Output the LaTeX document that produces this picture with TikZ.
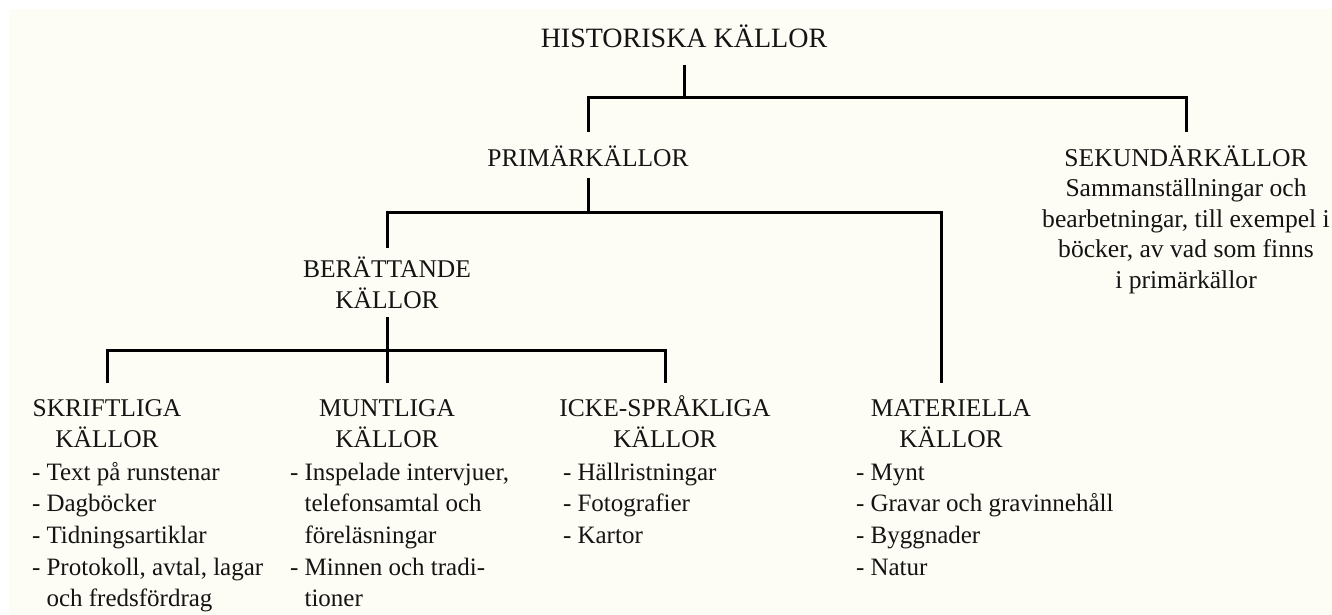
\documentclass[tikz,border=0pt]{standalone}
\usepackage{fontspec}
\setmainfont{Liberation Serif}
\definecolor{bgcream}{RGB}{253,253,245}
\definecolor{ink}{RGB}{20,20,20}
\setlength{\tabcolsep}{0pt}
\newcommand{\mytop}{\fontsize{28}{31.7}\selectfont}
\newcommand{\myhead}{\fontsize{25.5}{31.7}\selectfont}
\newcommand{\mybody}{\fontsize{25}{31.7}\selectfont}
\newcommand{\mysek}{\fontsize{25.6}{30.5}\selectfont}
\tikzset{
  txt/.style={inner sep=0pt, outer sep=0pt, anchor=base, text=ink},
  head/.style={txt, font=\myhead},
  listing/.style={txt, anchor=base west, font=\mybody},
  conn/.style={draw=black, line width=3pt, line join=miter}
}
\begin{document}
\begin{tikzpicture}[x=1pt,y=-1pt]
\useasboundingbox (0,0) rectangle (1332,615);
\fill[bgcream] (9,9) rectangle (1332,615);

% nodes
\node[txt, font=\mytop] (hist) at (684,48) {HISTORISKA KÄLLOR};
\node[head] (prim) at (588,166) {PRIMÄRKÄLLOR};
\node[txt, font=\mysek] (sek) at (1186,166) {\begin{tabular}[t]{c}SEKUNDÄRKÄLLOR\\
Sammanställningar och\\
bearbetningar, till exempel i\\
böcker, av vad som finns\\
i primärkällor\end{tabular}};
\node[head] (ber) at (387,277) {\begin{tabular}[t]{c}BERÄTTANDE\\KÄLLOR\end{tabular}};

\node[head] (skrH) at (107,416) {\begin{tabular}[t]{c}SKRIFTLIGA\\KÄLLOR\end{tabular}};
\node[head] (muntH) at (387,416) {\begin{tabular}[t]{c}MUNTLIGA\\KÄLLOR\end{tabular}};
\node[head] (ickeH) at (665,416) {\begin{tabular}[t]{c}ICKE-SPRÅKLIGA\\KÄLLOR\end{tabular}};
\node[head] (matH) at (951,416) {\begin{tabular}[t]{c}MATERIELLA\\KÄLLOR\end{tabular}};

\node[listing] (skrL) at (32,480) {\begin{tabular}[t]{l}- Text på runstenar\\
- Dagböcker\\
- Tidningsartiklar\\
- Protokoll, avtal, lagar\\
\hphantom{- }och fredsfördrag\end{tabular}};
\node[listing] (muntL) at (290,480) {\begin{tabular}[t]{l}- Inspelade intervjuer,\\
\hphantom{- }telefonsamtal och\\
\hphantom{- }föreläsningar\\
- Minnen och tradi-\\
\hphantom{- }tioner\end{tabular}};
\node[listing] (ickeL) at (563,480) {\begin{tabular}[t]{l}- Hällristningar\\
- Fotografier\\
- Kartor\end{tabular}};
\node[listing] (matL) at (856,480) {\begin{tabular}[t]{l}- Mynt\\
- Gravar och gravinnehåll\\
- Byggnader\\
- Natur\end{tabular}};

% junctions
\coordinate (jA) at (684,98);
\coordinate (jB) at (588,212);
\coordinate (jC) at (387,350);

% connectors
\draw[conn] ([yshift=-17pt]hist.base) -- (jA);
\draw[conn] ([yshift=34pt]prim.base) |- (jA) -| ([yshift=34pt]sek.base);
\draw[conn] ([yshift=-12pt]prim.base) -- (jB);
\draw[conn] ([yshift=29pt]ber.base) |- (jB) -| ([xshift=-10pt,yshift=33pt]matH.base);
\draw[conn] ([yshift=-40pt]ber.base) -- ([yshift=33pt]muntH.base);
\draw[conn] ([yshift=33pt]skrH.base) |- (jC) -| ([yshift=33pt]ickeH.base);
\end{tikzpicture}
\end{document}
